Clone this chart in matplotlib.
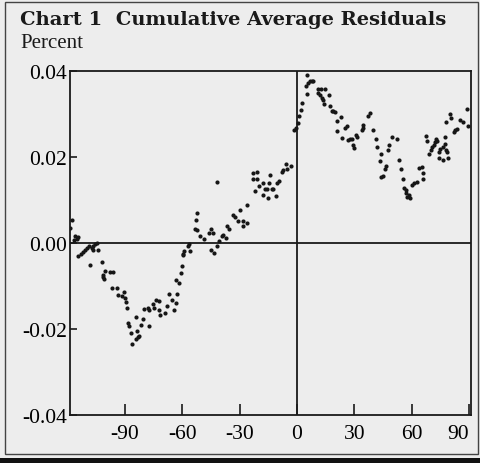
import matplotlib.pyplot as plt
from matplotlib.patches import Rectangle

# Дни относительно события и кумулятивные средние остатки (в процентах)
days = [
    -118.5, -117.8, -116.0, -114.8, -115.2, -116.4, -114.3, -113.1, -111.7, -110.8,
    -109.9, -108.7, -107.3, -106.5, -105.6, -104.4, -106.5, -104.2, -108.2, -102.1,
    -100.4, -101.6, -101.3, -100.8, -97.8, -96.0, -96.9, -94.3, -93.4, -91.3,
    -90.3, -89.9, -89.5, -89.0, -88.2, -87.7, -86.9, -86.4, -84.3, -83.5,
    -83.0, -82.6, -84.3, -81.7, -80.7, -77.2, -80.1, -78.0, -77.4, -75.3,
    -74.0, -72.1, -74.6, -72.1, -71.6, -69.0, -68.1, -64.3, -66.7, -65.5,
    -63.3, -62.9, -63.4, -61.5, -60.6, -60.3, -59.4, -59.7, -58.9, -55.9,
    -56.8, -56.5, -53.3, -52.1, -53.0, -52.1, -50.7, -48.6, -45.8, -45.0,
    -44.1, -45.0, -43.4, -41.7, -42.0, -40.8, -39.4, -38.5, -37.3, -36.8,
    -35.4, -33.6, -32.4, -30.7, -29.8, -28.4, -28.1, -26.0, -26.0, -23.2,
    -21.1, -22.8, -21.1, -22.0, -19.9, -17.9, -17.9, -16.7, -15.5, -14.1,
    -14.5, -13.2, -15.3, -12.4, -11.0, -10.3, -9.3, -8.0, -7.2, -5.4,
    -5.9, -3.1, -1.6, -0.7, 0.7, 1.2, 2.2, 2.6, 5.1, 4.7,
    5.4, 5.9, 6.8, 7.7, 8.5, 11.1, 12.4, 14.6, 11.1, 12.0,
    12.9, 13.7, 16.9, 14.1, 17.3, 18.1, 19.0, 19.9, 20.8, 22.8,
    23.4, 25.1, 26.3, 21.1, 26.8, 27.7, 28.6, 29.1, 29.8, 30.8,
    31.5, 33.8, 34.7, 34.3, 37.3, 38.2, 39.6, 41.3, 42.0, 43.4,
    43.9, 44.8, 43.9, 46.0, 46.5, 47.7, 48.2, 49.8, 52.1, 53.5,
    54.4, 55.6, 55.9, 57.0, 57.3, 57.7, 58.7, 59.1, 60.0, 61.3,
    62.6, 63.9, 65.2, 66.0, 65.7, 67.4, 68.1, 69.0, 69.9, 70.7,
    71.6, 72.1, 73.0, 73.3, 74.4, 74.4, 74.7, 76.2, 77.4, 76.5,
    77.7, 77.9, 78.3, 79.1, 77.9, 80.0, 80.5, 82.1, 82.6, 83.5,
    85.2, 86.9, 88.7, 89.5,
]
car = [
    0.0035, 0.0054, 0.0015, 0.0014, 0.0008, 0.0006, -0.0031, -0.0026, -0.0021, -0.0016,
    -0.0012, -0.0008, -0.0012, -0.0008, -0.0002, 0.0000, -0.0016, -0.0017, -0.0052, -0.0044,
    -0.0066, -0.0074, -0.0079, -0.0085, -0.0068, -0.0067, -0.0106, -0.0106, -0.0122, -0.0124,
    -0.0115, -0.0128, -0.0138, -0.0152, -0.0186, -0.0193, -0.0210, -0.0234, -0.0224, -0.0206,
    -0.0218, -0.0217, -0.0173, -0.0190, -0.0178, -0.0193, -0.0153, -0.0151, -0.0157, -0.0142,
    -0.0132, -0.0135, -0.0152, -0.0155, -0.0167, -0.0164, -0.0147, -0.0155, -0.0118, -0.0133,
    -0.0139, -0.0120, -0.0087, -0.0093, -0.0070, -0.0054, -0.0029, -0.0025, -0.0019, -0.0019,
    -0.0008, -0.0004, 0.0031, 0.0029, 0.0052, 0.0070, 0.0015, 0.0008, 0.0023, 0.0031,
    0.0023, -0.0016, -0.0023, 0.0141, -0.0008, 0.0004, 0.0015, 0.0019, 0.0010, 0.0039,
    0.0031, 0.0064, 0.0060, 0.0050, 0.0076, 0.0050, 0.0039, 0.0087, 0.0046, 0.0162,
    0.0165, 0.0148, 0.0147, 0.0120, 0.0131, 0.0139, 0.0112, 0.0124, 0.0124, 0.0158,
    0.0139, 0.0126, 0.0104, 0.0125, 0.0108, 0.0138, 0.0143, 0.0165, 0.0170, 0.0172,
    0.0184, 0.0178, 0.0263, 0.0267, 0.0277, 0.0295, 0.0308, 0.0325, 0.0346, 0.0365,
    0.0390, 0.0371, 0.0375, 0.0376, 0.0375, 0.0356, 0.0357, 0.0357, 0.0348, 0.0342,
    0.0336, 0.0332, 0.0344, 0.0322, 0.0317, 0.0305, 0.0305, 0.0304, 0.0282, 0.0292,
    0.0243, 0.0267, 0.0270, 0.0259, 0.0238, 0.0241, 0.0240, 0.0228, 0.0220, 0.0251,
    0.0246, 0.0263, 0.0274, 0.0267, 0.0294, 0.0302, 0.0263, 0.0241, 0.0223, 0.0189,
    0.0206, 0.0155, 0.0153, 0.0172, 0.0178, 0.0216, 0.0226, 0.0246, 0.0241, 0.0193,
    0.0172, 0.0149, 0.0128, 0.0122, 0.0116, 0.0106, 0.0112, 0.0104, 0.0133, 0.0138,
    0.0141, 0.0174, 0.0176, 0.0162, 0.0149, 0.0247, 0.0237, 0.0207, 0.0215, 0.0223,
    0.0228, 0.0233, 0.0242, 0.0236, 0.0210, 0.0197, 0.0218, 0.0193, 0.0245, 0.0223,
    0.0230, 0.0216, 0.0211, 0.0197, 0.0280, 0.0299, 0.0290, 0.0257, 0.0263, 0.0265,
    0.0286, 0.0281, 0.0311, 0.0272,
]
x_ticks = [-90, -60, -30, 0, 30, 60, 90]
y_ticks = [-0.04, -0.02, 0.00, 0.02, 0.04]
y_labels = ["-0.04", "-0.02", "0.00", "0.02", "0.04"]

bg = "#ededed"
plt.rcParams["font.family"] = ["Liberation Serif", "DejaVu Serif"]

fig = plt.figure(figsize=(4.81, 4.64), dpi=100, facecolor=bg)
ax = fig.add_axes([0.1445, 0.1034, 0.8345, 0.7425], facecolor=bg)

ax.scatter(days, car, s=9, c="#161616", linewidths=0, zorder=3)
ax.axhline(0, color="#1a1a1a", lw=1.3, zorder=2)
ax.axvline(0, color="#1a1a1a", lw=1.3, zorder=2)

ax.set_xlim(-119, 91)
ax.set_ylim(-0.04, 0.04)
ax.set_xticks(x_ticks)
ax.set_xticklabels([str(t) for t in x_ticks])
ax.set_yticks(y_ticks)
ax.set_yticklabels(y_labels)
ax.tick_params(axis="x", direction="in", length=8, width=1.2, pad=6.5,
               labelsize=15.5, color="#1a1a1a")
ax.tick_params(axis="y", direction="in", length=5, width=1.2, pad=2,
               labelsize=15.5, color="#1a1a1a")
ax.get_xticklabels()[-1].set_horizontalalignment("right")
for sp in ax.spines.values():
    sp.set_linewidth(1.3)
    sp.set_color("#1a1a1a")

fig.text(0.042, 0.957, "Chart 1  Cumulative Average Residuals", fontsize=14,
         fontweight="bold", family="DejaVu Serif", va="center", ha="left",
         color="#1a1a1a")
fig.text(0.042, 0.906, "Percent", fontsize=15, va="center", ha="left",
         color="#1a1a1a")

# Рамка вокруг рисунка и чёрная полоса снизу
fig.patches.append(Rectangle((0.011, 0.019), 0.982, 0.975, transform=fig.transFigure,
                             fill=False, lw=1.0, ec="#444444"))
fig.patches.append(Rectangle((0.0, 0.0), 1.0, 0.011, transform=fig.transFigure,
                             fill=True, lw=0, fc="#111111"))

fig.savefig("out.png", dpi=100, facecolor=bg)
